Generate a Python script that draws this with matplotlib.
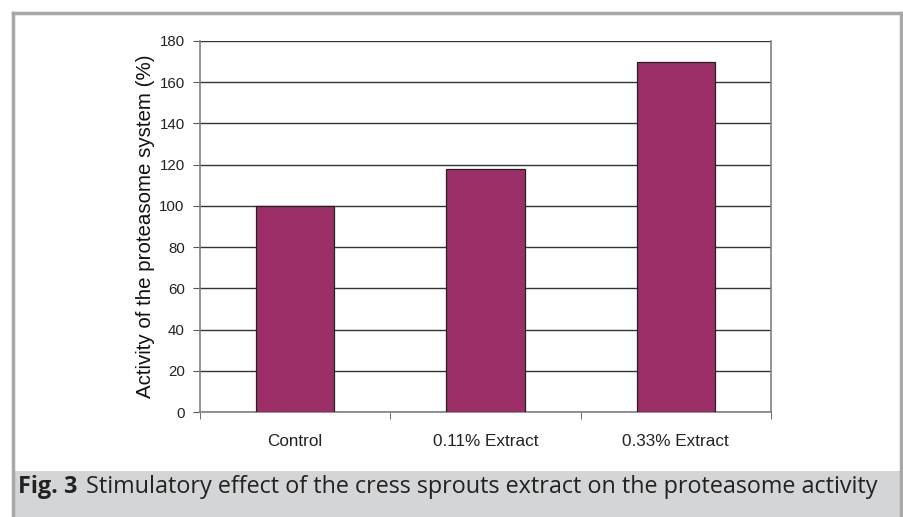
import matplotlib.pyplot as plt
from matplotlib.patches import Rectangle
from matplotlib.lines import Line2D

categories = ['Control', '0.11% Extract', '0.33% Extract']
activity = [100, 118, 170]
yticks = [0, 20, 40, 60, 80, 100, 120, 140, 160, 180]

fig = plt.figure(figsize=(9.04, 5.17), dpi=100)
W, H = 904, 517

# outer frame and caption band
fig.patches.append(Rectangle((14 / W, 0), 886 / W, 46 / H, transform=fig.transFigure,
                             facecolor='#d4d5d7', edgecolor='none', zorder=0))
fig.lines.append(Line2D([13 / W, 13 / W], [0, 1 - 13 / H], transform=fig.transFigure,
                        color='#a8a8a8', lw=2.5))
fig.lines.append(Line2D([13 / W, 901 / W], [1 - 13 / H, 1 - 13 / H], transform=fig.transFigure,
                        color='#a8a8a8', lw=2.5))
fig.lines.append(Line2D([901 / W, 901 / W], [0, 1 - 13 / H], transform=fig.transFigure,
                        color='#a8a8a8', lw=2.5))

ax = fig.add_axes([200 / W, 1 - 412 / H, 571 / W, 371 / H])
x = range(len(categories))
ax.bar(x, activity, width=0.41, color='#9c2f68', edgecolor='#222222', linewidth=0.9, zorder=3)

ax.set_xlim(-0.5, 2.5)
ax.set_ylim(0, 180)
ax.set_yticks(yticks)
ax.yaxis.grid(True, color='#333333', linewidth=1.0, zorder=1)
ax.set_xticks(list(x))
ax.set_xticklabels(categories, fontfamily='Liberation Sans', fontsize=12.3, color='#222222')
ax.set_xticks([-0.5, 0.5, 1.5, 2.5], minor=True)
ax.tick_params(axis='x', which='major', length=0, pad=16)
ax.tick_params(axis='x', which='minor', length=5, direction='out', color='#555555')
ax.tick_params(axis='y', length=5, direction='out', color='#555555', labelsize=10.8,
               labelcolor='#222222', pad=6)
for lab in ax.get_yticklabels():
    lab.set_fontfamily('Liberation Sans')
for side in ['left', 'bottom', 'right']:
    ax.spines[side].set_color('#808080')
    ax.spines[side].set_linewidth(1.2)
ax.spines['top'].set_visible(False)
ax.set_ylabel('Activity of the proteasome system (%)', fontfamily='Liberation Sans',
              fontsize=14.8, color='#111111', labelpad=3)

fig.text(18 / W, 30 / H, 'Fig. 3', fontfamily='Open Sans', fontweight='bold',
         fontsize=16.8, color='#222222', va='center')
fig.text(86 / W, 30 / H, 'Stimulatory effect of the cress sprouts extract on the proteasome activity',
         fontfamily='Open Sans', fontsize=16.8, color='#222222', va='center')

fig.savefig('out.png', dpi=100)
